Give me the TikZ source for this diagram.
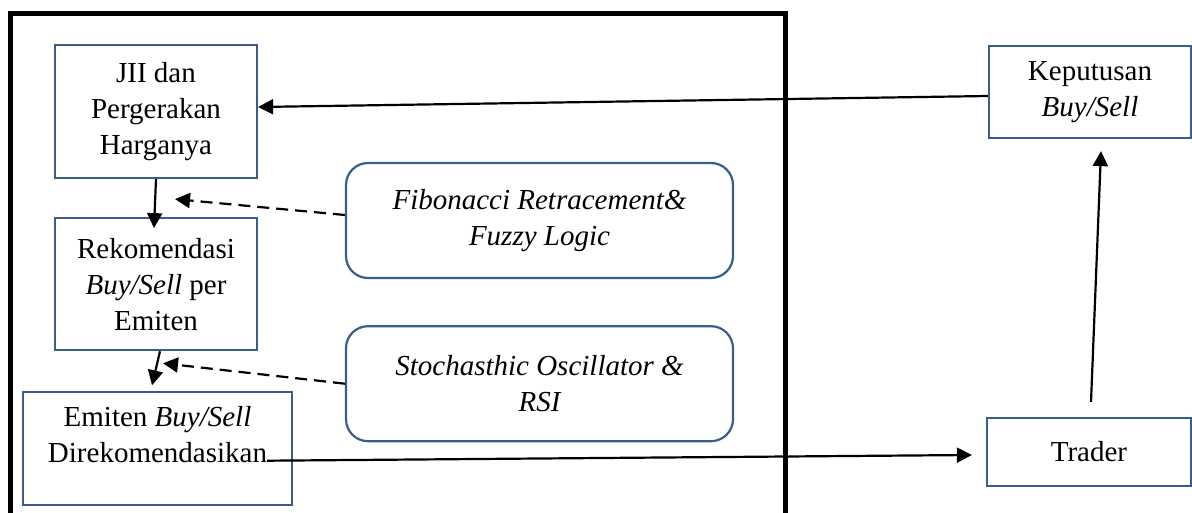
\documentclass[tikz,border=0pt]{standalone}
\usepackage{fontspec}
\setmainfont{Liberation Serif}
\usetikzlibrary{arrows.meta, positioning, calc}
\definecolor{boxblue}{RGB}{56,93,138}
\newcommand{\mainfs}{\fontsize{29}{36}\selectfont}
\tikzset{
    flowbox/.style={rectangle, draw=boxblue, line width=2.2pt, align=center, inner sep=4pt, font=\mainfs},
    methodbox/.style={flowbox, rounded corners=22pt, font=\mainfs\itshape},
    arrow/.style={-{Triangle[length=15pt,width=15pt]}, line width=2.2pt, black},
    dashedarrow/.style={arrow, dash pattern=on 12pt off 7pt},
}

\begin{document}
\begin{tikzpicture}[
    x=1pt, y=-1pt,
    frame/.style={line width=5pt, black},
    lbl/.style={font=\mainfs, align=center, inner sep=0pt}
]
\useasboundingbox (0,0) rectangle (1192,513);

% Outer frame (open at the bottom)
\draw[frame] (10,513) |- (785,14) -- (785,513);

% Left column
\node[flowbox, minimum width=202pt, minimum height=133pt] (jii-box) at (156,111.5) {JII dan\\Pergerakan\\Harganya};
\node[flowbox, minimum width=202pt, minimum height=132pt, below=38pt of jii-box] (rek-box) {Rekomendasi\\\textit{Buy/Sell} per\\Emiten};
\node[flowbox, minimum width=269pt, minimum height=113pt] (emt-box) at (157.5,448.5) {};
\node[lbl, anchor=north] (emt-text) at ([yshift=-15pt]emt-box.north) {Emiten \textit{Buy/Sell}\\Direkomendasikan};

% Method boxes
\node[methodbox, minimum width=387pt, minimum height=115pt] (fib-box) at (539.5,220.5) {Fibonacci Retracement\&\\Fuzzy Logic};
\node[methodbox, minimum width=387pt, minimum height=115pt, below=46pt of fib-box] (sto-box) {Stochasthic Oscillator \&\\RSI};

% Outside the frame
\node[flowbox, minimum width=202pt, minimum height=92pt] (kep-box) at (1090,92) {Keputusan\\\textit{Buy/Sell}};
\node[flowbox, minimum width=204pt, minimum height=68pt] (trd-box) at (1089,452) {Trader};

% Arrows
\coordinate (fib-in) at ([xshift=19pt,yshift=-20pt]jii-box.south);
\coordinate (sto-in) at ([xshift=7pt,yshift=-12pt]rek-box.south);
\coordinate (trd-in) at ([xshift=-14pt,yshift=-3pt]trd-box.west);
\draw[arrow] ([yshift=-4pt]kep-box.west) -- ([yshift=4.5pt]jii-box.east);
\draw[arrow] (jii-box.south) -- ([xshift=-2pt,yshift=-11pt]rek-box.north);
\draw[dashedarrow] ([yshift=5.5pt]fib-box.west) -- (fib-in);
\draw[arrow] ([xshift=4pt]rek-box.south) -- ([xshift=-4pt,yshift=-34pt]rek-box.south);
\draw[dashedarrow] (sto-box.west) -- (sto-in);
\draw[arrow] ([yshift=2pt]emt-text.south east) -- (trd-in);
\draw[arrow] ([xshift=2pt,yshift=15pt]trd-box.north) -- ([xshift=11pt,yshift=-12pt]kep-box.south);

\end{tikzpicture}
\end{document}
